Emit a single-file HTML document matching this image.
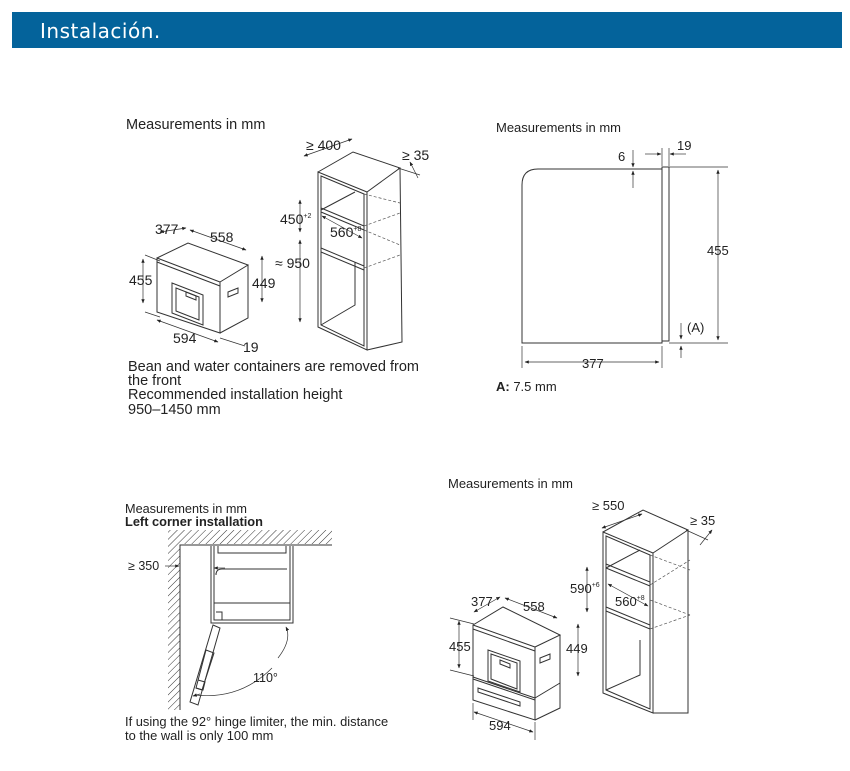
<!DOCTYPE html>
<html><head><meta charset="utf-8"><style>
html,body{margin:0;padding:0;background:#fff;width:850px;height:771px;overflow:hidden}
svg{display:block}
text{font-family:"Liberation Sans",sans-serif;fill:#222}
</style></head><body>
<svg width="850" height="771" viewBox="0 0 850 771" xmlns="http://www.w3.org/2000/svg">
<defs>
<marker id="a" viewBox="0 0 10 10" refX="9" refY="5" markerWidth="6" markerHeight="6" orient="auto-start-reverse"><path d="M0,1L10,5L0,9z" fill="#222"/></marker>
<pattern id="h" width="5" height="5" patternUnits="userSpaceOnUse" patternTransform="rotate(45)"><line x1="0" y1="0" x2="0" y2="5" stroke="#333" stroke-width="1"/></pattern>
</defs>
<rect x="12" y="12" width="830" height="36" fill="#04639b"/>
<text x="40" y="38" font-size="20" style="fill:#fff;font-family:'DejaVu Sans',sans-serif;letter-spacing:0.5px">Instalación.</text>

<g font-size="13">
<text x="126" y="129" font-size="14.5">Measurements in mm</text>
<text x="128" y="371" font-size="14.5">Bean and water containers are removed from</text>
<text x="128" y="385" font-size="14.5">the front</text>
<text x="128" y="399" font-size="14.5">Recommended installation height</text>
<text x="128" y="414" font-size="14.5">950–1450 mm</text>
<text x="496" y="132">Measurements in mm</text>
<text x="496" y="391"><tspan font-weight="bold">A:</tspan> 7.5 mm</text>
<text x="448" y="488">Measurements in mm</text>
<text x="125" y="513" font-size="12.7">Measurements in mm</text>
<text x="125" y="526" font-size="12.8" font-weight="bold">Left corner installation</text>
<text x="125" y="726" font-size="12.9">If using the 92° hinge limiter, the min. distance</text>
<text x="125" y="740" font-size="12.9">to the wall is only 100 mm</text>
</g>

<!-- TOP LEFT appliance -->
<g fill="none" stroke="#333" stroke-width="1">
<path d="M157,258 L220,282 L220,333 L157,312 Z"/>
<path d="M157,258 L188,243 L248,265 L220,282"/>
<path d="M248,265 L248,318 L220,333"/>
<path d="M172,283 L203,295 L203,325 L172,313 Z"/>
<path d="M176,288 L199,297 L199,320 L176,311 Z"/>
<path d="M186,292 L196,296 L196,300 L186,296Z"/>
<path d="M228,292 L238,288 L238,293 L228,297Z"/>
<path d="M157,262 L220,286"/>
</g>
<g stroke="#333" stroke-width="0.7" fill="none">
<line x1="145" y1="255" x2="160" y2="261"/><line x1="145" y1="312" x2="160" y2="317"/>
<line x1="143" y1="259" x2="143" y2="303" marker-start="url(#a)" marker-end="url(#a)"/>
<line x1="160" y1="232" x2="186" y2="228" marker-start="url(#a)" marker-end="url(#a)"/>
<line x1="190" y1="230" x2="246" y2="250" marker-start="url(#a)" marker-end="url(#a)"/>
<line x1="157" y1="320" x2="218" y2="342" marker-start="url(#a)" marker-end="url(#a)"/>
<line x1="262" y1="256" x2="262" y2="302" marker-start="url(#a)" marker-end="url(#a)"/>
<line x1="220" y1="338" x2="245" y2="346"/>
</g>
<g font-size="14"><text x="155" y="234">377</text><text x="210" y="242">558</text><text x="129" y="285">455</text><text x="252" y="288">449</text><text x="173" y="343">594</text><text x="243" y="352">19</text></g>

<!-- TOP LEFT cabinet -->
<g fill="none" stroke="#333" stroke-width="1">
<path d="M318,172 L367,192 L367,350 L318,327 Z"/>
<path d="M321,176 L364,194 L364,346 L321,325 Z"/>
<path d="M318,172 L353,152 L400,168 L367,192"/>
<path d="M400,168 L402,342 L367,350"/>
<path d="M321,208 L364,226 M321,212 L364,230 M321,248 L364,266 M321,252 L364,270"/>
<path d="M321,210 L355,192 M321,325 L355,305 L355,262"/>
</g>
<g stroke="#555" stroke-width="0.7" stroke-dasharray="3,2" fill="none">
<path d="M364,194 L400,203 M364,226 L400,213 M364,230 L400,245 M364,268 L400,255"/>
</g>
<g stroke="#333" stroke-width="0.7" fill="none">
<line x1="304" y1="156" x2="352" y2="139" marker-start="url(#a)" marker-end="url(#a)"/>
<line x1="398" y1="168" x2="420" y2="175"/>
<line x1="410" y1="162" x2="418" y2="178" marker-start="url(#a)"/>
<line x1="300" y1="200" x2="300" y2="232" marker-start="url(#a)" marker-end="url(#a)"/>
<line x1="300" y1="240" x2="300" y2="322" marker-start="url(#a)" marker-end="url(#a)"/>
<line x1="322" y1="216" x2="362" y2="238" marker-start="url(#a)" marker-end="url(#a)"/>
</g>
<g font-size="14"><text x="306" y="150">≥ 400</text><text x="402" y="160">≥ 35</text><text x="280" y="224">450<tspan font-size="7" dy="-6">+2</tspan></text><text x="330" y="237">560<tspan font-size="7" dy="-6">+8</tspan></text><text x="275" y="268">≈ 950</text></g>

<!-- TOP RIGHT profile -->
<g fill="none" stroke="#333" stroke-width="1">
<path d="M522,343 L522,185 Q522,169 538,169 L662,169 L662,343 Z"/>
<rect x="662" y="167" width="7" height="174"/>
</g>
<g stroke="#333" stroke-width="0.7" fill="none">
<line x1="669" y1="167" x2="728" y2="167"/><line x1="669" y1="343" x2="728" y2="343"/>
<line x1="718" y1="170" x2="718" y2="340" marker-start="url(#a)" marker-end="url(#a)"/>
<line x1="522" y1="346" x2="522" y2="368"/><line x1="662" y1="346" x2="662" y2="368"/>
<line x1="525" y1="362" x2="659" y2="362" marker-start="url(#a)" marker-end="url(#a)"/>
<line x1="633" y1="150" x2="633" y2="167" marker-end="url(#a)"/><line x1="633" y1="188" x2="633" y2="171" marker-end="url(#a)"/>
<line x1="645" y1="154" x2="661" y2="154" marker-end="url(#a)"/><line x1="686" y1="154" x2="670" y2="154" marker-end="url(#a)"/>
<line x1="662" y1="148" x2="662" y2="166"/><line x1="669" y1="148" x2="669" y2="166"/>
<line x1="681" y1="323" x2="681" y2="339" marker-end="url(#a)"/><line x1="681" y1="358" x2="681" y2="346" marker-end="url(#a)"/>
</g>
<g font-size="13"><text x="618" y="161">6</text><text x="677" y="150">19</text><text x="707" y="255">455</text><text x="582" y="368">377</text><text x="687" y="332">(A)</text></g>

<!-- BOTTOM LEFT corner -->
<rect x="168" y="530" width="12" height="180" fill="url(#h)"/>
<rect x="180" y="530" width="152" height="14" fill="url(#h)"/>
<g fill="none" stroke="#333" stroke-width="1">
<path d="M180,710 L180,545 L332,545"/>
<path d="M211,546 L211,623 L293,623 L293,546"/>
<path d="M214,546 L214,620 L290,620 L290,546"/>
<path d="M218,546 L218,553 L286,553 L286,546"/>
<path d="M216,573 L216,575 Q216,569 222,569 L287,569 M214,603 L290,603 M216,612 L222,612 L222,620"/>
<path d="M213,625 L220,628 L198,705 L190,702 Z"/>
<path d="M206,650 L214,653 L202,690 L196,688Z"/>
<path d="M198,680 L205,682 L203,690 L196,688"/>
</g>
<g stroke="#333" stroke-width="0.7" fill="none">
<line x1="165" y1="566" x2="179" y2="566" marker-end="url(#a)"/>
<line x1="225" y1="568" x2="214" y2="568" marker-end="url(#a)"/>
<path d="M195,695 Q240,700 272,668" /><path d="M278,658 Q292,640 286,627" marker-end="url(#a)"/>
<line x1="200" y1="694" x2="193" y2="696" marker-end="url(#a)"/>
</g>
<g font-size="12.5"><text x="128" y="570">≥ 350</text><text x="253" y="682">110°</text></g>

<!-- BOTTOM RIGHT appliance -->
<g fill="none" stroke="#333" stroke-width="1">
<path d="M473,625 L535,647 L535,720 L473,700 Z"/>
<path d="M473,629 L535,651 M473,677 L535,698 M473,679 L535,700"/>
<path d="M473,625 L503,607 L560,635 L535,647"/>
<path d="M560,635 L560,708 L535,720 M560,683 L535,698"/>
<path d="M488,650 L520,661 L520,692 L488,681Z"/>
<path d="M491,654 L517,663 L517,689 L491,679Z"/>
<path d="M500,660 L510,664 L510,668 L500,664Z"/>
<path d="M540,658 L550,654 L550,659 L540,663Z"/>
<path d="M478,688 L520,702 L520,706 L478,692Z"/>
</g>
<g stroke="#333" stroke-width="0.7" fill="none">
<line x1="459" y1="621" x2="459" y2="668" marker-start="url(#a)" marker-end="url(#a)"/>
<line x1="450" y1="618" x2="474" y2="624"/><line x1="450" y1="670" x2="474" y2="676"/>
<line x1="474" y1="612" x2="500" y2="597" marker-start="url(#a)" marker-end="url(#a)"/>
<line x1="505" y1="598" x2="557" y2="618" marker-start="url(#a)" marker-end="url(#a)"/>
<line x1="578" y1="624" x2="578" y2="676" marker-start="url(#a)" marker-end="url(#a)"/>
<line x1="474" y1="712" x2="533" y2="732" marker-start="url(#a)" marker-end="url(#a)"/>
<line x1="473" y1="703" x2="473" y2="720"/><line x1="535" y1="722" x2="535" y2="740"/>
</g>
<g font-size="13"><text x="471" y="606">377</text><text x="523" y="611">558</text><text x="449" y="651">455</text><text x="566" y="653">449</text><text x="489" y="730">594</text></g>

<!-- BOTTOM RIGHT cabinet -->
<g fill="none" stroke="#333" stroke-width="1">
<path d="M603,532 L653,553 L653,713 L603,693 Z"/>
<path d="M606,536 L650,555 L650,709 L606,690 Z"/>
<path d="M603,532 L643,510 L688,530 L653,553"/>
<path d="M688,530 L688,713 L653,713"/>
<path d="M606,564 L650,582 M606,568 L650,586 M606,607 L650,625 M606,611 L650,629"/>
<path d="M606,568 L640,550 M606,690 L640,675 L640,640"/>
</g>
<g stroke="#555" stroke-width="0.7" stroke-dasharray="3,2" fill="none">
<path d="M650,555 L690,570 M650,585 L690,560 M650,629 L690,615 M650,600 L690,615"/>
</g>
<g stroke="#333" stroke-width="0.7" fill="none">
<line x1="602" y1="528" x2="642" y2="514" marker-start="url(#a)" marker-end="url(#a)"/>
<line x1="686" y1="530" x2="708" y2="540"/>
<line x1="712" y1="530" x2="700" y2="545" marker-start="url(#a)"/>
<line x1="587" y1="567" x2="587" y2="612" marker-start="url(#a)" marker-end="url(#a)"/>
<line x1="608" y1="584" x2="648" y2="606" marker-start="url(#a)" marker-end="url(#a)"/>
</g>
<g font-size="13"><text x="592" y="510">≥ 550</text><text x="690" y="525">≥ 35</text><text x="570" y="593">590<tspan font-size="7" dy="-6">+6</tspan></text><text x="615" y="606">560<tspan font-size="7" dy="-6">+8</tspan></text></g>
</svg>
</body></html>
